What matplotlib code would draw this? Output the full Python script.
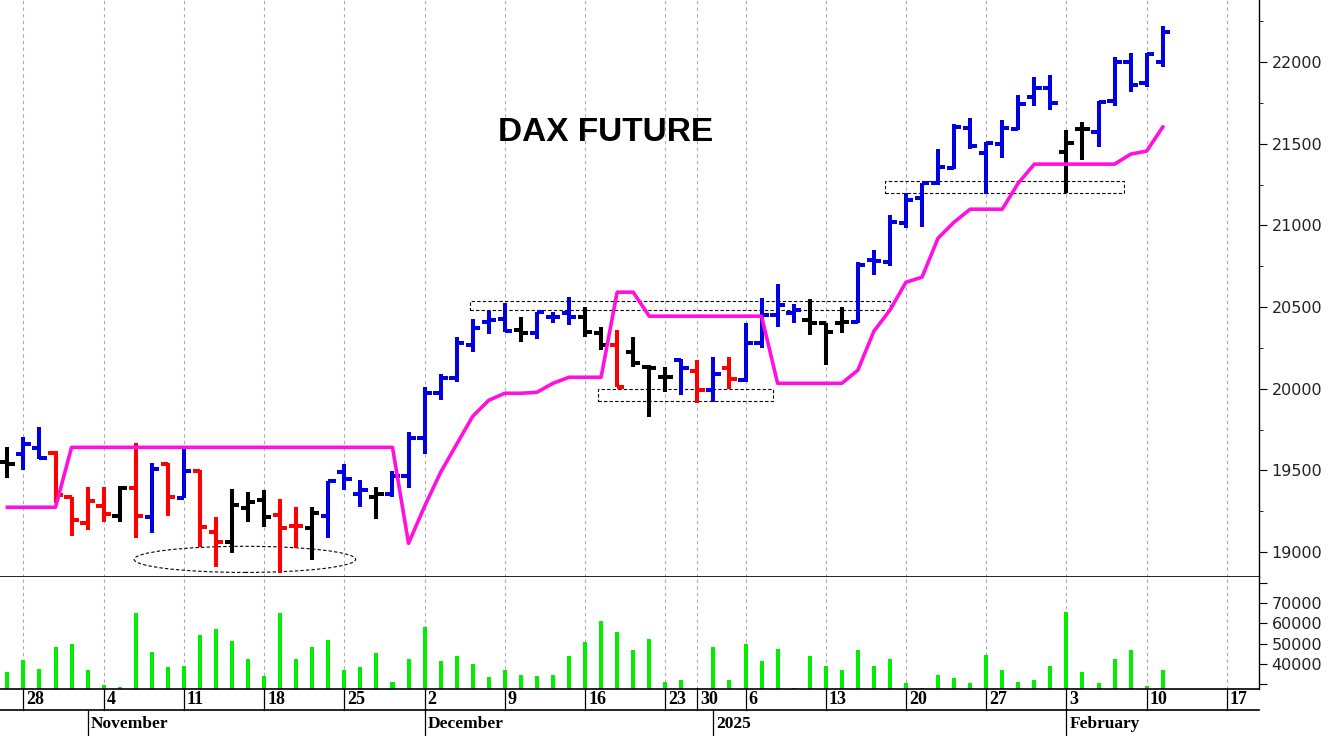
import numpy as np
import matplotlib
matplotlib.use("Agg")
import matplotlib.pyplot as plt
from matplotlib.patches import Rectangle, Ellipse

# daily DAX future bars, 25 Oct 2024 .. 11 Feb 2025 (trading days only)
opens = [19549, 19598, 19635, 19604, 19335, 19176, 19280, 19218, 19390, 19212,
         19537, 19329, 19494, 19120, 19059, 19268, 19316, 19225, 19157, 19145,
         19218, 19488, 19353, 19335, 19353, 19464, 19696, 19972, 20064, 20266,
         20407, 20425, 20358, 20340, 20438, 20462, 20438, 20340, 20266, 20223,
         20131, 20070, 20174, 20107, 19990, 20125, 20052, 20278, 20450, 20462,
         20419, 20401, 20401, 20407, 20787, 20775, 21014, 21167, 21259, 21351,
         21596, 21443, 21498, 21590, 21786, 21841, 21449, 21590, 21571, 21761,
         22000, 21871, 22000]
highs = [19641, 19702, 19764, 19617, 19335, 19396, 19396, 19402, 19666, 19543,
         19543, 19635, 19500, 19212, 19384, 19366, 19378, 19323, 19274, 19274,
         19433, 19537, 19439, 19396, 19494, 19733, 20009, 20089, 20315, 20425,
         20475, 20524, 20438, 20468, 20468, 20560, 20499, 20376, 20358, 20315,
         20144, 20131, 20180, 20174, 20193, 20193, 20401, 20554, 20640, 20517,
         20548, 20401, 20499, 20775, 20848, 21063, 21197, 21259, 21467, 21620,
         21657, 21510, 21645, 21798, 21908, 21920, 21583, 21632, 21761, 22031,
         22055, 22055, 22221]
lows = [19451, 19500, 19568, 19298, 19096, 19133, 19182, 19182, 19084, 19114,
        19218, 19329, 19029, 18906, 18992, 19182, 19151, 18869, 19022, 18949,
        19084, 19378, 19274, 19200, 19335, 19390, 19598, 19929, 20039, 20223,
        20334, 20346, 20285, 20303, 20401, 20389, 20315, 20236, 20009, 20131,
        19825, 19978, 19960, 19911, 19917, 19997, 20039, 20248, 20376, 20401,
        20327, 20144, 20340, 20401, 20695, 20750, 20983, 20989, 21247, 21345,
        21467, 21191, 21412, 21583, 21731, 21706, 21197, 21400, 21479, 21731,
        21816, 21847, 21969]
closes = [19537, 19660, 19574, 19347, 19194, 19310, 19231, 19390, 19218, 19506,
          19335, 19494, 19151, 19059, 19286, 19304, 19212, 19145, 19157, 19237,
          19433, 19445, 19378, 19353, 19464, 19696, 19972, 20064, 20278, 20370,
          20419, 20352, 20340, 20468, 20438, 20438, 20346, 20266, 20009, 20156,
          20125, 20070, 20125, 19990, 20089, 20058, 20278, 20450, 20511, 20481,
          20401, 20346, 20407, 20756, 20781, 21020, 21155, 21259, 21357, 21602,
          21485, 21504, 21596, 21743, 21841, 21749, 21504, 21590, 21755, 22000,
          21859, 22049, 22184]
colors = "kbbrrrrkrbrbrrkkkrrkbbbkbbbbbbbbkbbbkkrkkkbrbrbbbbkkkbbbbbbbbbbbbbkkbbbbb"
stop_line = [19274, 19274, 19274, 19274] + [19641] * 21 + \
            [19053, 19280, 19488, 19660, 19831, 19929, 19972, 19972, 19978, 20033,
             20070, 20070, 20070, 20591, 20591] + [20444] * 8 + [20033] * 5 + \
            [20113, 20352, 20481, 20652, 20683, 20922, 21020, 21099, 21099, 21099,
             21259, 21375, 21375, 21375, 21375, 21375, 21375, 21436, 21455, 21602]
volume = [36300, 42100, 37700, 48400, 49900, 37200, 29700, 28500, 64900, 46100,
          38300, 39100, 54100, 57100, 51100, 42500, 34200, 64900, 42500, 48400,
          51900, 37200, 38300, 45600, 31300, 42500, 58400, 41300, 44100, 39800,
          33800, 37200, 34800, 34200, 34800, 44000, 50600, 61000, 55600, 47100,
          52400, 31200, 32200, 28200, 48300, 32200, 50000, 41300, 47600, 28400,
          44100, 39200, 37200, 47000, 39200, 42600, 30500, 28400, 34800, 33300,
          30500, 44500, 37200, 31200, 32200, 39200, 65600, 36200, 30500, 42600,
          47000, 29200, 37200]

week_idx = [1, 6, 11, 16, 21, 26, 31, 36, 41, 43, 46, 51, 56, 61, 66, 71, 76]
week_lbl = ["28", "4", "11", "18", "25", "2", "9", "16", "23", "30", "6", "13",
            "20", "27", "3", "10", "17"]
month_idx = [5, 26, 44, 66]
month_lbl = ["November", "December", "2025", "February"]

cmap = {"k": "#000000", "b": "#0000e0", "r": "#ff0000"}
W, H = 1331, 736
fig = plt.figure(figsize=(W / 100, H / 100), dpi=100)
xl = (-0.46, 78.0)
right = 1259 / W
ax = fig.add_axes([0, 1 - 577 / H, right, 577 / H])
axv = fig.add_axes([0, 1 - 689 / H, right, 112 / H])

x = np.arange(len(closes))
for i in x:
    c = cmap[colors[i]]
    ax.vlines(i, lows[i], highs[i], color=c, lw=2.9)
    ax.hlines(opens[i], i - 0.45, i, color=c, lw=2.9)
    ax.hlines(closes[i], i, i + 0.45, color=c, lw=2.9)
ax.plot(x, stop_line, color="#ff10e0", lw=2.6)

dot = dict(fill=False, ls=(0, (3, 2)), lw=0.8, ec="black")
ax.add_patch(Rectangle((28.85, 20481), 55.0 - 28.85, 54, **dot))
ax.add_patch(Rectangle((36.8, 19923), 47.7 - 36.8, 74, **dot))
ax.add_patch(Rectangle((54.7, 21197), 69.6 - 54.7, 74, **dot))
ax.add_patch(Ellipse((14.8, 18955), 13.8, 160, **dot))
ax.text(37.3, 21570, "DAX FUTURE", fontsize=24, fontweight="bold",
        family="Liberation Sans", ha="center", va="center")

ax.set_xlim(*xl)
ax.set_ylim(18847, 22380)
ax.set_yticks([19000, 19500, 20000, 20500, 21000, 21500, 22000])
ax.set_yticks(np.arange(19000, 22400, 250), minor=True)

axv.bar(x, volume, width=0.25, color="#00ee00")
axv.set_xlim(*xl)
axv.set_ylim(27700, 82800)
axv.set_yticks([30000, 40000, 50000, 60000, 70000, 80000])
axv.set_yticklabels(["", "40000", "50000", "60000", "70000", ""])

for a in (ax, axv):
    a.yaxis.tick_right()
    a.tick_params(axis="y", direction="out", length=6, labelsize=11.5,
                  labelcolor="#222222", pad=3)
    a.tick_params(axis="y", which="minor", length=3)
    a.set_xticks([])
    for s in ("top", "left"):
        a.spines[s].set_visible(False)
    a.spines["bottom"].set_linewidth(1.2)
    a.spines["bottom"].set_color("black")
    a.spines["bottom"].set_zorder(5)
    a.spines["right"].set_linewidth(1.0)
    for w in week_idx:
        a.axvline(w, color="#aaaaaa", ls=(0, (3, 3)), lw=0.8, zorder=0)

# date rows below the volume panel
tr = axv.transData
def fx(v):
    return (tr.transform((v, 0))[0]) / W
fig.add_artist(plt.Line2D([0, right], [1 - 710 / H] * 2, color="black", lw=1.2))
for w, s in zip(week_idx, week_lbl):
    fig.add_artist(plt.Line2D([fx(w)] * 2, [1 - 710 / H, 1 - 689 / H], color="black", lw=0.9))
    fig.text(fx(w) + 3 / W, 1 - 700 / H, s, fontsize=13, fontweight="bold",
             family="Liberation Serif", va="center")
for m, s in zip(month_idx, month_lbl):
    fig.add_artist(plt.Line2D([fx(m)] * 2, [0, 1 - 710 / H], color="black", lw=0.9))
    fig.text(fx(m) + 3 / W, 1 - 724 / H, s, fontsize=12.5, fontweight="bold",
             family="Liberation Serif", va="center")

fig.savefig("out.png", dpi=100)
